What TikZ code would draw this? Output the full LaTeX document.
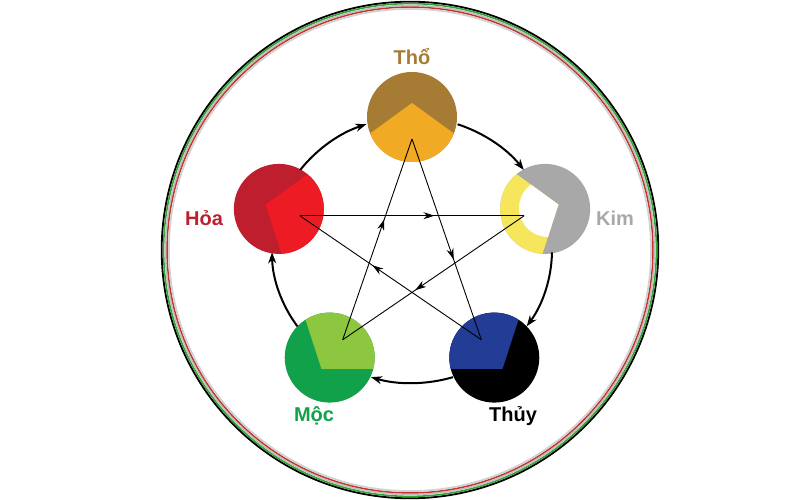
\documentclass[tikz,border=0pt]{standalone}
\usepackage{fontspec}
\setmainfont{Liberation Sans}
\usetikzlibrary{arrows.meta,decorations.markings,calc}
\definecolor{thoD}{HTML}{A67C35}\definecolor{thoL}{HTML}{F0AA23}
\definecolor{kimD}{HTML}{A8A8A8}\definecolor{kimL}{HTML}{F5E65C}
\definecolor{thuyD}{HTML}{000000}\definecolor{thuyL}{HTML}{233C95}
\definecolor{mocD}{HTML}{12A14B}\definecolor{mocL}{HTML}{8DC63F}
\definecolor{hoaD}{HTML}{BE1E2D}\definecolor{hoaL}{HTML}{ED1C24}
\tikzset{cyc/.style={line width=2pt, -{Stealth[length=11pt,width=8pt]}},
    starline/.style={line width=0.9pt, postaction={decorate},
      decoration={markings, mark=at position 0.6 with {\arrow{Stealth[length=11pt,width=7pt]}}}},
    lab/.style={font=\bfseries\fontsize{20}{20}\selectfont}}
% element disc: #1 angle, #2 outer colour, #3 inner colour
\newcommand{\elemdisc}[3]{%
  \fill[#2] ($(O)+(#1:140 and 133)$) circle[radius=45];
  \begin{scope}
    \clip ($(O)+(#1:140 and 133)$) circle[radius=45];
    \fill[#3] ($(O)+(#1:140 and 133)+(#1:14)$) -- ++(#1+126:120) -- ($(O)+(#1:20)$) -- ($(O)+(#1:140 and 133)+(#1:14)+(#1+234:120)$) -- cycle;
  \end{scope}}
\begin{document}
\begin{tikzpicture}[x=1pt,y=1pt]
\useasboundingbox (0,0) rectangle (800,500);
\coordinate (O) at (412,250);
% outer rings
\draw[line width=1.8pt, black] (410,250) circle[radius=248.3];
\draw[line width=1.6pt, green!55!black!80] (410,250) circle[radius=246.4];
\draw[line width=1.5pt, gray!50] (410,250) circle[radius=244.6];
\draw[line width=1.5pt, red!70!black!80] (410,250) circle[radius=242.9];
\draw[line width=1.8pt, gray!35] (410,250) circle[radius=241.1];
% discs
\elemdisc{90}{thoD}{thoL}
\elemdisc{18}{kimD}{kimL}
\begin{scope}
  \clip ($(O)+(18:140 and 133)$) circle[radius=45];
  \clip ($(O)+(18:140 and 133)+(18:14)$) -- ++(144:120) -- ($(O)+(18:20)$) -- ($(O)+(18:140 and 133)+(18:14)+(252:120)$) -- cycle;
  \fill[white] ($(O)+(18:140 and 133)+(18:3)$) circle[radius=29];
\end{scope}
\elemdisc{-54}{thuyD}{thuyL}
\elemdisc{-126}{mocD}{mocL}
\elemdisc{162}{hoaD}{hoaL}
% star points
\coordinate (tho) at ($(O)+(90:118 and 111)$);
\coordinate (kim) at ($(O)+(18:118 and 111)$);
\coordinate (thuy) at ($(O)+(-54:118 and 111)$);
\coordinate (moc) at ($(O)+(-126:118 and 111)$);
\coordinate (hoa) at ($(O)+(162:118 and 111)$);
\draw[starline] (tho) -- (thuy);
\draw[starline] (thuy) -- (hoa);
\draw[starline] (hoa) -- (kim);
\draw[starline] (kim) -- (moc);
\draw[starline] (moc) -- (tho);
% cycle
\foreach \a in {90,18,-54,-126,-198}
  \draw[cyc] ($(O)+(\a-19:140 and 133)$) arc[start angle=\a-19, end angle=\a-72+19, x radius=140, y radius=133];
% labels
\node[lab, text=thoD] (ltho) at (412,443) {Thổ};
\node[lab, text=kimD] (lkim) at (615,282) {Kim};
\node[lab, text=black] (lthuy) at (513,84) {Thủy};
\node[lab, text=mocD] (lmoc) at (314,84) {Mộc};
\node[lab, text=hoaD] (lhoa) at (204,282) {Hỏa};
\end{tikzpicture}
\end{document}
